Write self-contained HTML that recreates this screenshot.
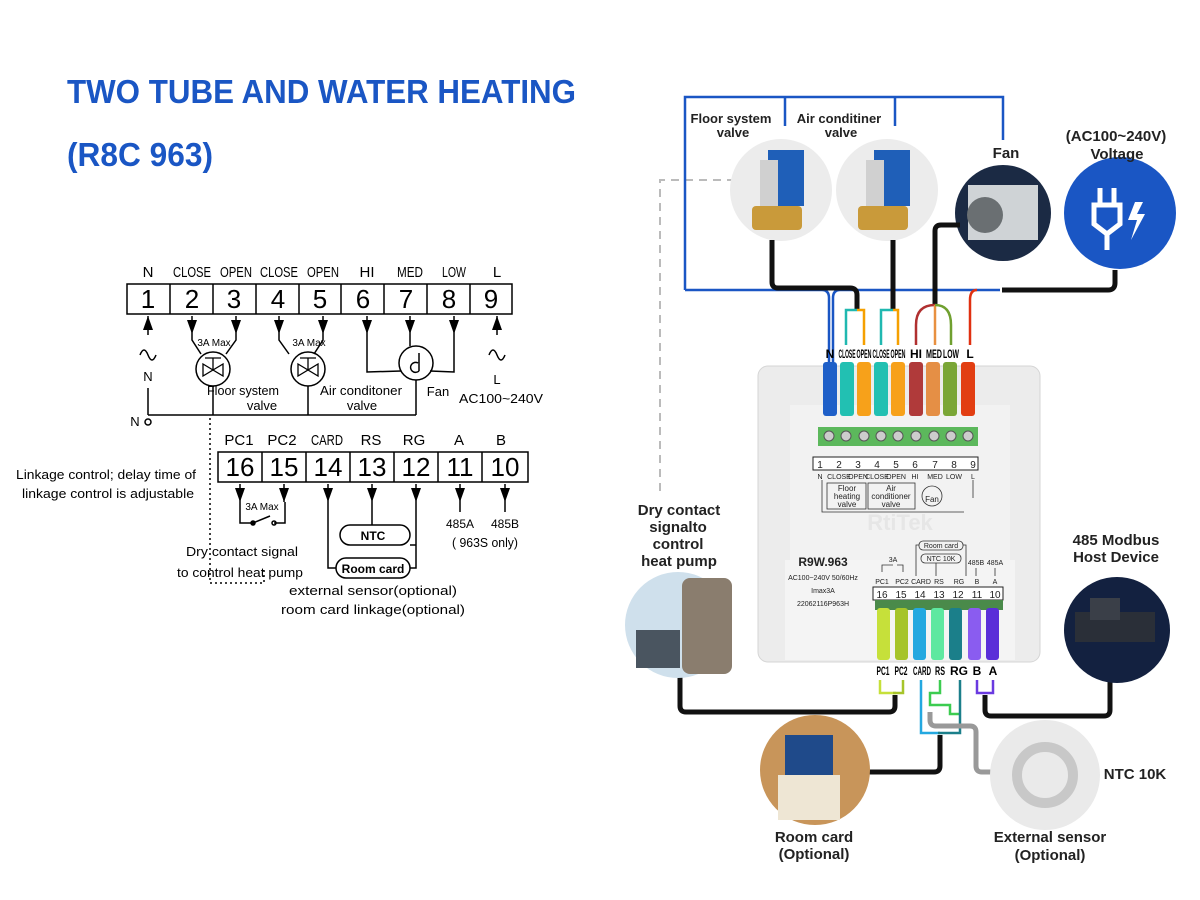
<!DOCTYPE html>
<html><head><meta charset="utf-8"><style>
html,body{margin:0;padding:0;background:#fff;}
svg{display:block;}
text{font-family:"Liberation Sans",sans-serif;}
</style></head><body>
<svg width="1200" height="900" viewBox="0 0 1200 900" xmlns="http://www.w3.org/2000/svg">
<defs>
<marker id="ah" viewBox="0 0 14 10" refX="14" refY="5" markerWidth="14" markerHeight="10" orient="auto" markerUnits="userSpaceOnUse"><path d="M0,0 L14,5 L0,10 Z" fill="#000"/></marker>
</defs>
<rect width="1200" height="900" fill="#fff"/>
<text x="67" y="103" font-size="33" font-weight="bold" fill="#1a56c4" textLength="509" lengthAdjust="spacingAndGlyphs">TWO TUBE AND WATER HEATING</text>
<text x="67" y="166" font-size="33" font-weight="bold" fill="#1a56c4" textLength="146" lengthAdjust="spacingAndGlyphs">(R8C 963)</text>

<!-- LEFT SCHEMATIC -->
<g stroke="#000" fill="none" stroke-width="1.5">
<rect x="127" y="284" width="385" height="30"/>
<line x1="170" y1="284" x2="170" y2="314"/><line x1="213" y1="284" x2="213" y2="314"/><line x1="256" y1="284" x2="256" y2="314"/>
<line x1="299" y1="284" x2="299" y2="314"/><line x1="341" y1="284" x2="341" y2="314"/><line x1="384" y1="284" x2="384" y2="314"/>
<line x1="427" y1="284" x2="427" y2="314"/><line x1="470" y1="284" x2="470" y2="314"/>
<rect x="218" y="452" width="310" height="30"/>
<line x1="262" y1="452" x2="262" y2="482"/><line x1="306" y1="452" x2="306" y2="482"/><line x1="350" y1="452" x2="350" y2="482"/>
<line x1="394" y1="452" x2="394" y2="482"/><line x1="438" y1="452" x2="438" y2="482"/><line x1="482" y1="452" x2="482" y2="482"/>
</g>
<g font-size="15" text-anchor="middle" fill="#000">
<text x="148" y="277">N</text><text x="192" y="277" textLength="38" lengthAdjust="spacingAndGlyphs">CLOSE</text><text x="236" y="277" textLength="32" lengthAdjust="spacingAndGlyphs">OPEN</text>
<text x="279" y="277" textLength="38" lengthAdjust="spacingAndGlyphs">CLOSE</text><text x="323" y="277" textLength="32" lengthAdjust="spacingAndGlyphs">OPEN</text>
<text x="367" y="277">HI</text><text x="410" y="277" textLength="26" lengthAdjust="spacingAndGlyphs">MED</text><text x="454" y="277" textLength="24" lengthAdjust="spacingAndGlyphs">LOW</text><text x="497" y="277">L</text>
</g>
<g font-size="26" text-anchor="middle" fill="#000">
<text x="148" y="308">1</text><text x="192" y="308">2</text><text x="234" y="308">3</text><text x="278" y="308">4</text><text x="320" y="308">5</text>
<text x="363" y="308">6</text><text x="406" y="308">7</text><text x="449" y="308">8</text><text x="491" y="308">9</text>
</g>
<g font-size="15" text-anchor="middle" fill="#000">
<text x="239" y="445">PC1</text><text x="282" y="445">PC2</text><text x="327" y="445" textLength="32" lengthAdjust="spacingAndGlyphs">CARD</text>
<text x="371" y="445">RS</text><text x="414" y="445">RG</text><text x="459" y="445">A</text><text x="501" y="445">B</text>
</g>
<g font-size="26" text-anchor="middle" fill="#000">
<text x="240" y="476">16</text><text x="284" y="476">15</text><text x="328" y="476">14</text><text x="372" y="476">13</text><text x="416" y="476">12</text><text x="460" y="476">11</text><text x="505" y="476">10</text>
</g>
<g stroke="#000" stroke-width="1.5" fill="none">
<line x1="148" y1="335" x2="148" y2="316" marker-end="url(#ah)"/>
<path d="M140,355 q4,-10 8,0 q4,10 8,0"/>
<line x1="148" y1="388" x2="148" y2="415"/>
<line x1="148" y1="415" x2="416" y2="415"/>
<circle cx="148" cy="422" r="3" fill="#fff"/>
<line x1="192" y1="316" x2="192" y2="334" marker-end="url(#ah)"/>
<line x1="236" y1="316" x2="236" y2="334" marker-end="url(#ah)"/>
<path d="M192,334 L192,340 L201,354 M236,334 L236,340 L226,354"/>
<circle cx="213" cy="369" r="17"/>
<line x1="213" y1="386" x2="213" y2="415"/>
<line x1="279" y1="316" x2="279" y2="334" marker-end="url(#ah)"/>
<line x1="323" y1="316" x2="323" y2="334" marker-end="url(#ah)"/>
<path d="M279,334 L279,340 L289,354 M323,334 L323,340 L314,354"/>
<circle cx="308" cy="369" r="17"/>
<line x1="308" y1="386" x2="308" y2="415"/>
<line x1="367" y1="316" x2="367" y2="334" marker-end="url(#ah)"/>
<line x1="410" y1="316" x2="410" y2="334" marker-end="url(#ah)"/>
<line x1="454" y1="316" x2="454" y2="334" marker-end="url(#ah)"/>
<path d="M367,334 L367,372 L401,371 M410,334 L410,346 M454,334 L454,372 L430,371"/>
<circle cx="416" cy="363" r="17"/>
<line x1="416" y1="380" x2="416" y2="415"/>
<line x1="497" y1="335" x2="497" y2="316" marker-end="url(#ah)"/>
<path d="M489,355 q4,-10 8,0 q4,10 8,0"/>
<path d="M203,364 L223,376 L223,364 L203,376 Z M205,358 L221,358 M213,358 L213,370" stroke-width="1.3"/>
<path d="M298,364 L318,376 L318,364 L298,376 Z M300,358 L316,358 M308,358 L308,370" stroke-width="1.3"/>
<path d="M419,353 L419,371 M419,371 a5,5 0 1 1 -1,-8"/>
<path d="M210,418 L210,583 L264,583 L264,568" stroke-dasharray="2,3"/>
<line x1="240" y1="484" x2="240" y2="502" marker-end="url(#ah)"/>
<line x1="284" y1="484" x2="284" y2="502" marker-end="url(#ah)"/>
<line x1="328" y1="484" x2="328" y2="502" marker-end="url(#ah)"/>
<line x1="372" y1="484" x2="372" y2="502" marker-end="url(#ah)"/>
<line x1="416" y1="484" x2="416" y2="502" marker-end="url(#ah)"/>
<line x1="460" y1="484" x2="460" y2="502" marker-end="url(#ah)"/>
<line x1="505" y1="484" x2="505" y2="502" marker-end="url(#ah)"/>
<path d="M240,502 L240,523 L253,523 L270,516 M274,523 L285,523 L285,502"/>
<circle cx="253" cy="523" r="2" fill="#000"/><circle cx="274" cy="523" r="2"/>
<path d="M328,502 L328,568 L336,568 M372,502 L372,525 M416,502 L416,568 L410,568 M416,545 L410,545"/>
<rect x="340" y="525" width="70" height="20" rx="10"/>
<rect x="336" y="558" width="74" height="20" rx="10"/>
<line x1="460" y1="502" x2="460" y2="512"/><line x1="505" y1="502" x2="505" y2="512"/>
</g>
<g fill="#000" font-size="13" text-anchor="middle">
<text x="214" y="346" font-size="10">3A Max</text>
<text x="309" y="346" font-size="10">3A Max</text>
<text x="148" y="381">N</text>
<text x="135" y="426">N</text>
<text x="243" y="395" textLength="72" lengthAdjust="spacingAndGlyphs">Floor system</text><text x="262" y="410">valve</text>
<text x="361" y="395" textLength="82" lengthAdjust="spacingAndGlyphs">Air conditoner</text><text x="362" y="410">valve</text>
<text x="438" y="396">Fan</text>
<text x="497" y="384">L</text>
<text x="501" y="403" textLength="84" lengthAdjust="spacingAndGlyphs">AC100~240V</text>
<text x="262" y="510" font-size="10">3A Max</text>
<text x="373" y="540" font-weight="bold" font-size="12">NTC</text>
<text x="373" y="573" font-weight="bold" font-size="12">Room card</text>
<text x="460" y="528" font-size="12">485A</text><text x="505" y="528" font-size="12">485B</text>
<text x="485" y="547" textLength="66" lengthAdjust="spacingAndGlyphs">( 963S only)</text>
<text x="106" y="479" textLength="180" lengthAdjust="spacingAndGlyphs">Linkage control; delay time of</text>
<text x="108" y="498" textLength="172" lengthAdjust="spacingAndGlyphs">linkage control is adjustable</text>
<text x="242" y="556" textLength="112" lengthAdjust="spacingAndGlyphs">Dry contact signal</text>
<text x="240" y="577" textLength="126" lengthAdjust="spacingAndGlyphs">to control heat pump</text>
<text x="373" y="595" textLength="168" lengthAdjust="spacingAndGlyphs">external sensor(optional)</text>
<text x="373" y="614" textLength="184" lengthAdjust="spacingAndGlyphs">room card linkage(optional)</text>
</g>

<!-- RIGHT SIDE -->
<path d="M735,180 L660,180 L660,495" stroke="#bbb" stroke-width="2" stroke-dasharray="8,6" fill="none"/>
<g stroke="#1a56c4" stroke-width="2.5" fill="none">
<path d="M685,290 L685,97 L1003,97 L1003,140"/>
<line x1="785" y1="97" x2="785" y2="126"/><line x1="895" y1="97" x2="895" y2="126"/>
<path d="M685,290 L822,290 Q829,290 829,298 L829,362"/>
<path d="M1000,290 L840,290 Q833,290 833,298 L833,362"/>
</g>
<!-- photo circles -->
<circle cx="781" cy="190" r="51" fill="#ececec"/>
<rect x="768" y="150" width="36" height="56" fill="#1f5fb8"/><rect x="760" y="160" width="18" height="46" fill="#d0d0d0"/>
<rect x="752" y="206" width="50" height="24" rx="4" fill="#c99a3a"/>
<circle cx="887" cy="190" r="51" fill="#ececec"/>
<rect x="874" y="150" width="36" height="56" fill="#1f5fb8"/><rect x="866" y="160" width="18" height="46" fill="#d0d0d0"/>
<rect x="858" y="206" width="50" height="24" rx="4" fill="#c99a3a"/>
<circle cx="1003" cy="213" r="48" fill="#1b2a44"/>
<rect x="968" y="185" width="70" height="55" fill="#cfd3d6"/><circle cx="985" cy="215" r="18" fill="#6a6f72"/>
<circle cx="1120" cy="213" r="56" fill="#1a56c4"/>
<g stroke="#fff" stroke-width="5" fill="none"><path d="M1100,188 L1100,204 M1114,188 L1114,204 M1094,205 L1120,205 L1120,224 L1107,234 L1094,224 Z M1107,234 L1107,250"/></g>
<path d="M1135,202 L1128,220 L1137,220 L1131,240 L1145,214 L1137,214 L1143,202 Z" fill="#fff"/>
<g stroke="#111" stroke-width="5" fill="none">
<path d="M772,240 L772,282 Q772,288 778,288 L850,288 Q857,288 857,295 L857,310"/>
<path d="M893,240 L893,310"/>
<path d="M960,225 L941,225 Q935,225 935,231 L935,305"/>
<path d="M1115,270 L1115,283 Q1115,290 1108,290 L1002,290"/>
</g>
<g stroke-width="2.5" fill="none">
<path d="M857,310 L846,310 L846,345" stroke="#20b8b0"/><path d="M857,310 L864,310 L864,345" stroke="#f5a000"/>
<path d="M893,310 L881,310 L881,345" stroke="#20b8b0"/><path d="M893,310 L898,310 L898,345" stroke="#f5a000"/>
<path d="M935,305 Q916,305 916,325 L916,345" stroke="#b03030"/>
<path d="M935,305 L935,345" stroke="#e89040"/>
<path d="M935,305 Q951,305 951,325 L951,345" stroke="#70a030"/>
<path d="M977,290 Q970,290 970,300 L970,345" stroke="#e03010"/>
</g>
<g font-size="12" font-weight="bold" text-anchor="middle" fill="#000">
<text x="830" y="358">N</text>
<text x="847" y="358" textLength="17" lengthAdjust="spacingAndGlyphs">CLOSE</text>
<text x="864" y="358" textLength="15" lengthAdjust="spacingAndGlyphs">OPEN</text>
<text x="881" y="358" textLength="17" lengthAdjust="spacingAndGlyphs">CLOSE</text>
<text x="898" y="358" textLength="15" lengthAdjust="spacingAndGlyphs">OPEN</text>
<text x="916" y="358">HI</text>
<text x="934" y="358" textLength="16" lengthAdjust="spacingAndGlyphs">MED</text>
<text x="951" y="358" textLength="16" lengthAdjust="spacingAndGlyphs">LOW</text>
<text x="970" y="358">L</text>
</g>
<rect x="758" y="366" width="282" height="296" rx="10" fill="#ececec" stroke="#d5d5d5"/>
<rect x="790" y="405" width="220" height="160" fill="#f2f2f2"/>
<rect x="785" y="560" width="230" height="100" fill="#f4f4f4"/>
<g>
<rect x="823" y="362" width="14" height="54" rx="3" fill="#1e5fc8"/>
<rect x="840" y="362" width="14" height="54" rx="3" fill="#22c0b2"/>
<rect x="857" y="362" width="14" height="54" rx="3" fill="#f7a11a"/>
<rect x="874" y="362" width="14" height="54" rx="3" fill="#22c0b2"/>
<rect x="891" y="362" width="14" height="54" rx="3" fill="#f7a11a"/>
<rect x="909" y="362" width="14" height="54" rx="3" fill="#b03a3a"/>
<rect x="926" y="362" width="14" height="54" rx="3" fill="#e58f45"/>
<rect x="943" y="362" width="14" height="54" rx="3" fill="#7aa636"/>
<rect x="961" y="362" width="14" height="54" rx="3" fill="#e23e12"/>
</g>
<rect x="818" y="427" width="160" height="19" fill="#5cb85c"/>
<g fill="#ccc" stroke="#555" stroke-width="1">
<circle cx="829" cy="436" r="5"/><circle cx="846" cy="436" r="5"/><circle cx="864" cy="436" r="5"/><circle cx="881" cy="436" r="5"/><circle cx="898" cy="436" r="5"/><circle cx="916" cy="436" r="5"/><circle cx="934" cy="436" r="5"/><circle cx="951" cy="436" r="5"/><circle cx="968" cy="436" r="5"/>
</g>
<rect x="813" y="457" width="165" height="13" fill="#fff" stroke="#222"/>
<g font-size="10" text-anchor="middle" fill="#222">
<text x="820" y="468">1</text><text x="839" y="468">2</text><text x="858" y="468">3</text><text x="877" y="468">4</text><text x="896" y="468">5</text><text x="915" y="468">6</text><text x="935" y="468">7</text><text x="954" y="468">8</text><text x="973" y="468">9</text>
</g>
<g font-size="7" text-anchor="middle" fill="#222">
<text x="820" y="479">N</text><text x="839" y="479">CLOSE</text><text x="858" y="479">OPEN</text><text x="877" y="479">CLOSE</text><text x="896" y="479">OPEN</text><text x="915" y="479">HI</text><text x="935" y="479">MED</text><text x="954" y="479">LOW</text><text x="973" y="479">L</text>
</g>
<g fill="none" stroke="#333" stroke-width="0.8">
<rect x="827" y="483" width="39" height="26"/><rect x="868" y="483" width="47" height="26"/>
<circle cx="932" cy="496" r="10"/>
<path d="M822,480 L822,512 L964,512 M973,480 L973,498"/>
</g>
<g font-size="8" text-anchor="middle" fill="#222">
<text x="847" y="491">Floor</text><text x="847" y="499">heating</text><text x="847" y="507">valve</text>
<text x="891" y="491">Air</text><text x="891" y="499">conditioner</text><text x="891" y="507">valve</text>
<text x="932" y="502">Fan</text>
</g>
<text x="900" y="530" font-size="22" font-weight="bold" fill="#e6e6e6" text-anchor="middle">RtiTek</text>
<g fill="#222" text-anchor="middle">
<text x="823" y="566" font-size="12" font-weight="bold">R9W.963</text>
<text x="823" y="580" font-size="7">AC100~240V 50/60Hz</text>
<text x="823" y="593" font-size="7">Imax3A</text>
<text x="823" y="606" font-size="7">22062116P963H</text>
</g>
<g fill="none" stroke="#333" stroke-width="0.8">
<rect x="919" y="541" width="44" height="9" rx="4"/><rect x="921" y="554" width="40" height="9" rx="4"/>
<path d="M916,576 L916,545 L919,545 M936,576 L936,563 M963,545 L966,545 L966,576 M882,572 L882,565 L893,565 M897,565 L903,565 L903,572 M976,576 L976,568 M995,576 L995,568"/>
</g>
<g font-size="7" fill="#222" text-anchor="middle">
<text x="941" y="548">Room card</text><text x="941" y="561">NTC 10K</text>
<text x="893" y="562">3A</text>
<text x="976" y="565">485B</text><text x="995" y="565">485A</text>
<text x="882" y="584">PC1</text><text x="902" y="584">PC2</text><text x="921" y="584">CARD</text><text x="939" y="584">RS</text><text x="959" y="584">RG</text><text x="977" y="584">B</text><text x="995" y="584">A</text>
</g>
<rect x="873" y="587" width="130" height="13" fill="#fff" stroke="#222"/>
<g font-size="10" text-anchor="middle" fill="#222">
<text x="882" y="598">16</text><text x="901" y="598">15</text><text x="920" y="598">14</text><text x="939" y="598">13</text><text x="958" y="598">12</text><text x="977" y="598">11</text><text x="995" y="598">10</text>
</g>
<rect x="875" y="600" width="128" height="10" fill="#4a8a4a"/>
<g>
<rect x="877" y="608" width="13" height="52" rx="3" fill="#c6e03a"/>
<rect x="895" y="608" width="13" height="52" rx="3" fill="#a6c42a"/>
<rect x="913" y="608" width="13" height="52" rx="3" fill="#24a8e0"/>
<rect x="931" y="608" width="13" height="52" rx="3" fill="#5ee8a0"/>
<rect x="949" y="608" width="13" height="52" rx="3" fill="#1b7f8a"/>
<rect x="968" y="608" width="13" height="52" rx="3" fill="#8a5cf0"/>
<rect x="986" y="608" width="13" height="52" rx="3" fill="#5a2ed8"/>
</g>
<g font-size="12" font-weight="bold" text-anchor="middle" fill="#000">
<text x="883" y="675" textLength="13" lengthAdjust="spacingAndGlyphs">PC1</text>
<text x="901" y="675" textLength="13" lengthAdjust="spacingAndGlyphs">PC2</text>
<text x="922" y="675" textLength="18" lengthAdjust="spacingAndGlyphs">CARD</text>
<text x="940" y="675" textLength="10" lengthAdjust="spacingAndGlyphs">RS</text>
<text x="959" y="675">RG</text>
<text x="977" y="675">B</text>
<text x="993" y="675">A</text>
</g>
<g stroke-width="2.5" fill="none">
<path d="M880,680 L880,693 L896,693" stroke="#c6e03a"/><path d="M903,680 L903,693 L893,693" stroke="#a6c42a"/>
<path d="M921,680 L921,733 L940,733" stroke="#24a8e0"/>
<path d="M940,680 L940,693 L930,693 L930,705 L950,705 L950,714 L960,714" stroke="#3ccc50"/>
<path d="M960,680 L960,733 L938,733" stroke="#1b7f8a"/>
<path d="M977,680 L977,693 L985,693 M993,680 L993,693 L985,693" stroke="#6a3ae0"/>
</g>
<g stroke="#999" stroke-width="5" fill="none">
<path d="M930,712 L930,720 Q930,726 936,726 L970,726 Q976,726 976,732 L976,766 Q976,772 982,772 L998,772"/>
</g>
<g stroke="#111" stroke-width="5" fill="none">
<path d="M895,695 L895,706 Q895,712 889,712 L686,712 Q680,712 680,706 L680,676"/>
<path d="M940,735 L940,766 Q940,772 934,772 L866,772"/>
<path d="M985,695 L985,710 Q985,716 991,716 L1104,716 Q1110,716 1110,710 L1110,676"/>
</g>
<circle cx="678" cy="625" r="53" fill="#cfe0ec"/>
<rect x="682" y="578" width="50" height="96" rx="8" fill="#8a7d6e"/><rect x="636" y="630" width="44" height="38" fill="#4a5560"/>
<circle cx="1117" cy="630" r="53" fill="#132140"/>
<rect x="1075" y="612" width="80" height="30" fill="#2a2f38"/><rect x="1090" y="598" width="30" height="22" fill="#3a3f48"/>
<circle cx="815" cy="770" r="55" fill="#c8955a"/>
<rect x="785" y="735" width="48" height="60" fill="#1f4a8a"/><rect x="778" y="775" width="62" height="45" fill="#eee6d4"/>
<circle cx="1045" cy="775" r="55" fill="#eaeaea"/>
<circle cx="1045" cy="775" r="28" fill="none" stroke="#c8c8c8" stroke-width="10"/>
<g font-size="14" font-weight="bold" text-anchor="middle" fill="#222">
<text x="731" y="123" font-size="13">Floor system</text><text x="733" y="137" font-size="13">valve</text>
<text x="839" y="123" font-size="13">Air conditiner</text><text x="841" y="137" font-size="13">valve</text>
<text x="1006" y="158" font-size="15">Fan</text>
<text x="1116" y="141" font-size="15">(AC100~240V)</text><text x="1117" y="159" font-size="15">Voltage</text>
<text x="679" y="515" font-size="15">Dry contact</text><text x="678" y="532" font-size="15">signalto</text>
<text x="678" y="549" font-size="15">control</text><text x="679" y="566" font-size="15">heat pump</text>
<text x="1116" y="545" font-size="15">485 Modbus</text><text x="1116" y="562" font-size="15">Host Device</text>
<text x="1135" y="779" font-size="15">NTC 10K</text>
<text x="814" y="842" font-size="15">Room card</text><text x="814" y="859" font-size="15">(Optional)</text>
<text x="1050" y="842" font-size="15">External sensor</text><text x="1050" y="860" font-size="15">(Optional)</text>
</g>
</svg>
</body></html>
